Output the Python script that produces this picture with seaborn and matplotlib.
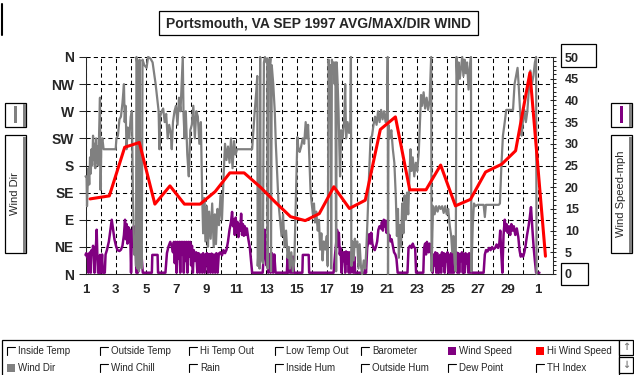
import matplotlib
matplotlib.use("Agg")
import matplotlib.pyplot as plt
from matplotlib.patches import Rectangle
import seaborn as sns

# ---------------- data ----------------
title_text = "Portsmouth, VA SEP 1997 AVG/MAX/DIR WIND"
dir_labels = ["N", "NE", "E", "SE", "S", "SW", "W", "NW", "N"]
day_ticks = list(range(1, 33))
day_labels = [str(d) if d % 2 == 1 else "" for d in range(1, 31)] + ["1", ""]
speed_ticks = list(range(0, 55, 5))

# wind direction in compass points (0 = N, 2 = E, 4 = S, 6 = W, 8 = N)
dir_day = [1.00, 1.07, 1.10, 1.14, 1.20, 1.25, 1.30, 1.35, 1.40, 1.45, 1.50, 1.55, 1.60, 1.65, 1.70, 1.75, 1.80, 1.85, 1.90, 1.96,
           2.00, 2.05, 2.12, 2.20, 3.00, 3.05, 3.15, 3.25, 3.35, 3.45, 3.55, 3.60, 3.66, 3.72, 3.80, 3.90, 4.00, 4.08, 4.14, 4.20,
           4.25, 4.30, 4.35, 4.38, 4.42, 4.45, 4.50, 4.55, 4.58, 4.63, 4.68, 4.73, 4.78, 4.90, 5.05, 5.15, 5.30, 5.45, 5.55, 5.65,
           5.75, 5.85, 5.90, 5.95, 6.05, 6.15, 6.25, 6.35, 6.45, 6.55, 6.65, 6.72, 6.80, 6.90, 7.00, 7.10, 7.20, 7.30, 7.45, 7.50,
           7.57, 7.65, 7.75, 7.85, 7.95, 8.05, 8.15, 8.25, 8.35, 8.45, 8.55, 8.65, 8.73, 8.80, 8.88, 8.95, 9.05, 9.12, 9.20, 9.30,
           9.40, 9.50, 9.58, 9.65, 9.75, 9.85, 9.95, 10.05, 10.15, 10.25, 10.35, 10.45, 10.55, 10.65, 10.75, 10.85, 10.95, 11.05, 12.05, 12.12,
           12.22, 12.32, 12.39, 12.42, 12.48, 12.54, 12.58, 12.63, 12.70, 12.76, 12.83, 12.90, 13.00, 13.05, 13.08, 13.12, 13.20, 13.26, 13.30, 13.35,
           13.45, 13.55, 13.62, 13.70, 13.80, 13.90, 14.00, 14.10, 14.20, 14.30, 14.40, 14.48, 14.55, 14.65, 14.75, 14.85, 15.05, 15.12, 15.20, 15.30,
           15.40, 15.50, 15.60, 15.68, 15.76, 15.84, 15.92, 16.00, 16.08, 16.15, 16.22, 16.30, 16.40, 16.48, 16.56, 16.64, 16.72, 16.80, 16.90, 17.00,
           17.06, 17.12, 17.18, 17.24, 17.29, 17.34, 17.40, 17.46, 17.52, 17.57, 17.62, 17.66, 17.72, 17.78, 17.83, 17.88, 17.95, 18.05, 18.15, 18.22,
           18.28, 18.38, 18.48, 18.56, 18.60, 18.63, 18.70, 18.78, 18.86, 18.94, 19.02, 19.10, 19.18, 19.26, 19.34, 19.45, 19.55, 19.62, 19.70, 19.80,
           19.90, 20.00, 20.10, 20.20, 20.30, 20.40, 20.50, 20.60, 20.70, 20.80, 20.90, 21.00, 21.04, 21.06, 21.09, 21.18, 21.28, 21.38, 21.48, 21.58,
           21.65, 21.72, 21.78, 21.85, 21.92, 22.00, 22.08, 22.16, 22.24, 22.32, 22.40, 22.48, 22.55, 22.62, 22.70, 22.80, 22.90, 23.00, 23.10, 23.25,
           23.32, 23.42, 23.52, 23.62, 23.72, 23.82, 23.88, 23.92, 23.95, 24.00, 24.05, 24.15, 24.25, 24.35, 24.45, 24.55, 24.65, 24.75, 24.85, 24.95,
           25.05, 25.15, 25.25, 25.32, 25.40, 25.48, 25.55, 25.60, 25.66, 25.74, 25.82, 25.90, 25.98, 26.06, 26.14, 26.22, 26.30, 26.40, 26.48, 26.56,
           26.59, 26.68, 26.76, 26.85, 27.00, 27.40, 27.48, 27.55, 28.40, 28.48, 28.58, 28.68, 28.80, 28.90, 29.00, 29.35, 29.45, 29.55, 29.65, 29.72,
           29.82, 29.92, 30.00, 30.10, 30.20, 30.30, 30.40, 30.50, 30.60, 30.70, 30.80, 30.88, 30.91]
dir_pts = [3.6, 3.6, 2.5, 3.2, 3.9, 3.3, 4.3, 3.7, 4.6, 4.0, 5.1, 4.2, 4.8, 3.9, 5.0, 4.1, 4.7, 4.0, 5.1, 6.5,
           3.1, 4.8, 5.0, 4.6, 4.6, 5.0, 5.1, 5.7, 5.8, 6.3, 7.0, 5.6, 6.2, 4.6, 5.4, 5.0, 5.8, 6.0, 3.0, 1.5,
           0.7, 1.2, 0.3, 8.0, 7.8, 0.2, 0.9, 0.1, 7.9, 0.4, 1.0, 0.2, 7.9, 7.7, 7.6, 8.0, 7.95, 7.8, 7.4, 7.0,
           6.5, 6.0, 4.6, 5.8, 6.0, 6.1, 5.6, 5.9, 5.0, 5.5, 5.2, 4.6, 5.6, 6.0, 6.2, 5.5, 6.5, 6.0, 8.0, 5.9,
           5.0, 6.0, 4.4, 3.6, 5.3, 5.5, 6.2, 5.0, 6.0, 5.8, 4.8, 5.6, 3.1, 1.5, 2.8, 1.2, 2.5, 1.0, 2.3, 1.3,
           2.6, 1.0, 2.2, 1.1, 2.4, 1.8, 2.9, 2.0, 3.5, 4.8, 4.2, 4.7, 4.1, 5.0, 3.9, 4.9, 4.4, 4.6, 4.6, 5.2,
           6.0, 6.7, 7.3, 0.3, 1.0, 0.2, 8.0, 0.5, 1.2, 0.4, 7.8, 8.0, 7.8, 7.95, 0.2, 7.9, 7.6, 7.95, 0.1, 7.7,
           7.0, 6.0, 4.8, 3.8, 2.6, 2.0, 1.4, 2.2, 1.0, 1.6, 0.6, 1.0, 0.2, 0.8, 0.1, 0.5, 5.05, 4.6, 4.5, 4.7,
           5.0, 4.8, 5.6, 5.0, 5.5, 4.3, 3.1, 2.6, 2.2, 2.6, 1.9, 2.3, 1.6, 2.0, 0.9, 1.5, 0.5, 1.2, 0.9, 1.4,
           0.3, 7.9, 7.3, 7.7, 0.2, 7.9, 7.4, 7.8, 7.0, 7.8, 0.1, 7.8, 7.0, 6.0, 4.7, 3.6, 5.3, 5.0, 5.6, 7.0,
           5.0, 5.6, 5.2, 5.6, 8.0, 0.3, 1.2, 0.5, 1.3, 1.0, 1.2, 0.2, 1.1, 0.3, 0.0, 0.5, 0.2, 0.9, 2.0, 3.6,
           5.0, 5.1, 5.5, 5.8, 5.5, 6.0, 5.6, 6.05, 5.7, 6.0, 5.6, 6.0, 8.0, 0.0, 5.5, 5.0, 5.3, 4.6, 4.1, 2.8,
           1.4, 2.4, 0.6, 1.8, 1.0, 2.6, 1.5, 2.9, 2.0, 3.0, 2.2, 3.6, 4.6, 3.8, 4.3, 3.6, 4.1, 3.8, 4.5, 6.6,
           6.2, 6.7, 6.1, 6.5, 6.05, 6.4, 7.3, 8.0, 0.1, 1.5, 2.5, 2.2, 2.5, 2.3, 2.5, 2.4, 2.5, 2.25, 2.5, 2.2,
           2.4, 1.8, 1.4, 0.8, 1.4, 0.4, 0.1, 8.0, 7.0, 7.8, 7.2, 7.6, 8.0, 7.3, 7.9, 7.4, 7.8, 6.8, 7.6, 8.0,
           0.1, 1.8, 2.6, 2.5, 2.55, 2.55, 2.1, 2.55, 2.55, 2.6, 4.0, 5.1, 5.6, 6.05, 6.05, 6.05, 7.0, 7.3, 7.6, 7.0,
           6.0, 5.1, 5.6, 6.05, 5.6, 6.0, 6.8, 7.5, 7.0, 7.3, 7.8, 8.0, 0.0]

# average wind speed, mph
spd_day = [1.00, 1.05, 1.10, 1.15, 1.20, 1.25, 1.30, 1.35, 1.40, 1.45, 1.50, 1.55, 1.60, 1.65, 1.70, 1.74, 1.78, 1.83, 1.92, 1.96,
           2.02, 2.10, 2.15, 2.28, 2.33, 2.42, 2.55, 2.65, 2.74, 2.82, 2.92, 3.02, 3.12, 3.25, 3.35, 3.45, 3.55, 3.62, 3.68, 3.73,
           3.78, 3.84, 3.90, 3.96, 4.02, 4.08, 4.14, 4.20, 4.26, 4.32, 4.37, 4.47, 4.52, 4.58, 4.64, 4.72, 4.80, 5.40, 5.43, 5.78,
           5.81, 6.30, 6.40, 6.50, 6.62, 6.72, 6.80, 6.86, 6.92, 6.98, 7.04, 7.10, 7.16, 7.22, 7.28, 7.34, 7.40, 7.46, 7.52, 7.58,
           7.64, 7.70, 7.76, 7.82, 7.88, 7.94, 8.00, 8.06, 8.12, 8.18, 8.26, 8.34, 8.42, 8.50, 8.58, 8.66, 8.74, 8.80, 8.90, 8.98,
           9.06, 9.12, 9.20, 9.28, 9.36, 9.44, 9.52, 9.60, 9.68, 9.76, 9.84, 9.95, 10.05, 10.15, 10.25, 10.35, 10.45, 10.55, 10.65, 10.72,
           10.78, 10.84, 10.90, 10.96, 11.02, 11.08, 11.14, 11.20, 11.26, 11.32, 11.38, 11.44, 11.50, 11.56, 11.62, 11.70, 11.80, 11.90, 11.98, 12.05,
           12.75, 12.82, 12.88, 12.94, 13.00, 13.06, 13.12, 13.20, 13.28, 13.36, 13.44, 13.52, 13.60, 14.35, 14.40, 14.45, 14.52, 14.58, 14.64, 14.70,
           14.76, 14.82, 15.38, 15.41, 15.80, 15.83, 17.45, 17.55, 17.62, 17.68, 17.74, 17.80, 17.86, 17.92, 17.98, 18.04, 18.10, 18.16, 18.22, 18.28,
           18.34, 18.40, 18.46, 18.52, 18.58, 18.64, 18.70, 18.76, 18.82, 18.88, 19.50, 19.55, 19.60, 19.68, 19.75, 19.82, 19.88, 19.95, 20.02, 20.10,
           20.18, 20.26, 20.34, 20.42, 20.50, 20.58, 20.66, 20.72, 20.78, 20.84, 20.90, 20.96, 21.02, 21.08, 21.15, 21.22, 21.30, 21.38, 21.46, 21.55,
           21.62, 21.70, 22.35, 22.42, 22.52, 22.62, 22.70, 22.78, 22.86, 22.92, 23.40, 23.45, 23.52, 23.58, 23.64, 23.70, 23.76, 23.82, 23.88, 23.95,
           24.02, 24.08, 24.14, 24.20, 24.26, 24.32, 24.38, 24.44, 24.52, 24.58, 24.64, 24.70, 24.76, 24.82, 24.88, 24.94, 25.00, 25.06, 25.12, 25.18,
           25.24, 25.30, 25.36, 25.42, 25.48, 25.54, 25.60, 25.66, 25.72, 25.78, 25.84, 25.90, 25.96, 26.02, 26.08, 26.14, 26.20, 26.26, 26.32, 26.38,
           26.44, 26.50, 26.56, 26.62, 27.40, 27.48, 27.56, 27.66, 27.76, 27.86, 27.96, 28.06, 28.16, 28.26, 28.36, 28.44, 28.50, 28.56, 28.64, 28.72,
           28.80, 28.86, 28.92, 29.00, 29.08, 29.16, 29.24, 29.32, 29.40, 29.50, 29.60, 29.70, 29.78, 29.86, 29.94, 30.02, 30.10, 30.18, 30.28, 30.38,
           30.46, 30.54, 30.60, 30.66, 30.72, 30.80, 30.88, 31.10]
spd_mph = [4.4, 4.8, 3.9, 4.6, 0.3, 4.7, 5.0, 0.3, 5.5, 4.5, 6.5, 4.8, 0.3, 5.2, 7.0, 10.2, 5.0, 0.3, 0.3, 4.4,
           0.3, 4.5, 0.3, 0.3, 4.5, 5.5, 7.5, 10.2, 12.5, 10.5, 8.0, 6.5, 5.5, 5.3, 5.6, 6.5, 9.0, 12.5, 8.0, 11.5,
           7.0, 10.8, 7.5, 10.2, 0.3, 9.8, 6.5, 11.0, 5.5, 9.6, 0.3, 0.3, 8.5, 11.0, 5.0, 4.0, 0.3, 0.3, 4.4, 4.4,
           0.3, 0.3, 4.8, 6.3, 7.4, 6.3, 5.0, 7.4, 2.5, 7.4, 0.3, 7.4, 3.5, 7.4, 0.3, 7.4, 4.5, 7.4, 0.3, 7.4,
           3.0, 7.4, 0.3, 7.4, 4.0, 7.4, 2.0, 6.5, 0.3, 5.5, 3.0, 5.0, 0.3, 4.8, 0.3, 4.5, 0.3, 4.8, 0.3, 4.5,
           4.8, 0.3, 4.6, 0.3, 4.7, 0.3, 4.5, 0.3, 4.8, 0.3, 4.7, 5.0, 4.3, 5.5, 4.8, 5.6, 7.5, 10.2, 12.0, 14.3,
           11.0, 12.5, 9.0, 13.0, 9.5, 12.0, 8.5, 11.5, 10.0, 13.9, 9.0, 11.5, 8.8, 11.0, 9.0, 10.5, 8.0, 6.0, 3.0, 0.3,
           0.3, 4.5, 10.2, 4.8, 2.0, 5.0, 0.3, 4.6, 0.3, 4.8, 0.3, 4.5, 0.3, 0.3, 4.0, 0.3, 4.2, 0.3, 3.5, 0.3,
           4.0, 0.3, 0.3, 4.4, 4.4, 0.3, 0.3, 4.5, 7.0, 10.2, 6.5, 9.5, 4.5, 6.0, 0.3, 5.0, 3.0, 5.0, 0.3, 5.2,
           2.5, 5.0, 0.3, 5.0, 0.3, 4.5, 5.0, 0.3, 4.0, 0.3, 0.3, 1.5, 0.3, 6.0, 7.5, 9.2, 7.0, 9.5, 7.0, 6.0,
           5.5, 6.3, 7.5, 10.2, 11.0, 10.5, 12.0, 10.0, 12.5, 11.0, 12.3, 9.5, 11.5, 8.5, 9.0, 7.5, 8.0, 6.5, 5.0, 4.5,
           3.5, 0.3, 0.3, 6.0, 6.5, 6.0, 7.0, 6.2, 6.0, 0.3, 0.3, 6.0, 7.0, 4.5, 7.4, 6.0, 5.0, 7.0, 6.5, 4.0,
           0.3, 4.5, 2.0, 5.0, 0.3, 4.8, 0.3, 0.3, 4.4, 0.3, 5.0, 2.0, 4.8, 0.3, 4.6, 3.0, 5.0, 0.3, 4.4, 0.3,
           4.8, 0.3, 5.0, 0.3, 4.5, 2.5, 5.0, 0.3, 4.8, 0.3, 4.5, 3.0, 5.0, 0.3, 4.6, 0.3, 4.8, 2.5, 4.5, 0.3,
           4.8, 0.3, 4.0, 0.3, 0.3, 4.5, 5.5, 5.2, 6.0, 5.5, 6.2, 5.7, 6.0, 6.8, 6.0, 7.0, 10.0, 5.5, 0.3, 9.0,
           12.5, 10.0, 11.5, 9.5, 11.0, 9.0, 11.5, 10.0, 11.0, 9.0, 10.5, 8.5, 5.5, 4.0, 4.5, 4.0, 5.0, 6.5, 9.0, 11.0,
           13.0, 15.4, 12.0, 9.0, 6.0, 3.0, 0.3, 0.3]

# daily high wind speed, mph
hi_day = [1.30, 2.58, 3.60, 4.57, 5.60, 6.60, 7.56, 8.60, 9.60, 10.57, 11.52, 12.60, 13.60, 14.60, 15.57, 16.50,
          17.47, 18.50, 19.55, 20.55, 21.55, 22.50, 23.58, 24.55, 25.53, 26.53, 27.53, 28.60, 29.52, 30.47, 31.50]
hi_mph = [17.3, 18.0, 29.2, 30.3, 16.1, 20.3, 16.1, 16.1, 19.0, 23.3, 23.3, 20.0, 16.5, 13.2, 12.3, 13.9,
          20.1, 15.1, 17.0, 33.3, 36.2, 19.4, 19.4, 25.1, 15.7, 17.2, 23.5, 25.3, 28.4, 46.4, 4.1]

legend_row1 = ["Inside Temp", "Outside Temp", "Hi Temp Out", "Low Temp Out", "Barometer", "Wind Speed", "Hi Wind Speed"]
legend_row2 = ["Wind Dir", "Wind Chill", "Rain", "Inside Hum", "Outside Hum", "Dew Point", "TH Index"]
legend_fill1 = [None, None, None, None, None, "#800080", "#FF0000"]
legend_fill2 = ["#808080", None, None, None, None, None, None]

# ---------------- styling ----------------
sns.set_style("white")
plt.rcParams["font.family"] = ["Liberation Sans", "DejaVu Sans"]

GRAY, PURPLE, RED = "#808080", "#800080", "#FF0000"
W, H = 634, 375
fig = plt.figure(figsize=(W / 100, H / 100), dpi=100)
fig.patch.set_facecolor("white")


def fx(x):
    return x / W


def fy(y):
    return 1 - y / H


def box(x0, y0, x1, y1, fc="white", ec="black", lw=0.75, z=5):
    fig.add_artist(Rectangle((fx(x0), fy(y1)), fx(x1) - fx(x0), fy(y0) - fy(y1),
                             transform=fig.transFigure, facecolor=fc, edgecolor=ec,
                             linewidth=lw, zorder=z))


L, R, T, B = 85.5, 553, 57, 274
ax = fig.add_axes([fx(L), fy(B), fx(R) - fx(L), (B - T) / H])
ax_p = ax.twinx()
ax_g = ax.twinx()
ax_r = ax.twinx()
for z, a in enumerate([ax, ax_p, ax_g, ax_r]):
    a.set_zorder(z + 1)
    a.patch.set_visible(False)
ax.patch.set_visible(True)
ax.patch.set_facecolor("white")

sns.lineplot(x=spd_day, y=spd_mph, ax=ax_p, color=PURPLE, linewidth=1.8,
             estimator=None, sort=False, legend=False)
sns.lineplot(x=dir_day, y=dir_pts, ax=ax_g, color=GRAY, linewidth=1.6,
             estimator=None, sort=False, legend=False)
sns.lineplot(x=hi_day, y=hi_mph, ax=ax_r, color=RED, linewidth=2.2,
             estimator=None, sort=False, legend=False)
for line in ax_g.lines + ax_p.lines:
    line.set_clip_on(False)

for a in [ax, ax_p, ax_g, ax_r]:
    a.set_xlim(1, 32)
    a.set_xlabel("")
    a.set_ylabel("")
ax.set_ylim(0, 8)
ax_g.set_ylim(0, 8)
ax_p.set_ylim(0, 50)
ax_r.set_ylim(0, 50)

# base axes: grid, left direction axis, day axis
ax.set_yticks(range(9))
ax.set_yticklabels(dir_labels)
ax.set_xticks(day_ticks)
ax.set_xticklabels(day_labels)
ax.grid(True, color="black", linestyle=(0, (4, 3)), linewidth=0.75)
ax.tick_params(axis="y", direction="out", length=5, width=0.75, pad=3.5, labelsize=10)
ax.tick_params(axis="x", direction="out", length=4.3, width=0.75, pad=3, labelsize=9.5)
for lab in ax.get_xticklabels() + ax.get_yticklabels():
    lab.set_fontweight("bold")
for s in ["top", "right"]:
    ax.spines[s].set_visible(False)
for s in ["left", "bottom"]:
    ax.spines[s].set_linewidth(0.75)

for a in [ax_p, ax_g]:
    a.yaxis.set_visible(False)
    for s in a.spines.values():
        s.set_visible(False)

for s in ["top", "left", "bottom"]:
    ax_r.spines[s].set_visible(False)
ax_r.spines["right"].set_linewidth(0.75)
ax_r.set_yticks(speed_ticks)
ax_r.set_yticks(range(0, 51), minor=True)
ax_r.tick_params(axis="y", which="major", direction="inout", length=5, width=0.75, pad=6, labelsize=9)
ax_r.tick_params(axis="y", which="minor", direction="out", length=2.5, width=0.75)
for lab in ax_r.get_yticklabels():
    lab.set_fontweight("bold")

# boxes around the 50 and 0 labels on the speed axis
box(561, 44, 596, 67, fc="none", lw=0.9)
box(561, 263, 588, 285, fc="none", lw=0.9)

# title box
box(159, 11, 478, 35, lw=0.9)
fig.text(fx(318.5), fy(23.5), title_text, ha="center", va="center",
         fontsize=10, fontweight="bold", zorder=6)

# stray mark at top-left
fig.add_artist(plt.Line2D([fx(1.5), fx(1.5)], [fy(4), fy(35)], transform=fig.transFigure,
                          color="black", linewidth=1.5))

# side legends
for x0, col, label in [(5, GRAY, "Wind Dir"), (611, PURPLE, "Wind Speed-mph")]:
    box(x0, 103, x0 + 21, 127, lw=0.9)
    box(x0 + 18, 104, x0 + 21, 127, fc=GRAY, ec="none", lw=0, z=6)
    box(x0 + 9, 106, x0 + 12, 123, fc=col, ec="none", lw=0, z=6)
    box(x0, 135, x0 + 21, 253, lw=0.9)
    box(x0 + 18, 137, x0 + 21, 253, fc=GRAY, ec="none", lw=0, z=6)
    fig.text(fx(x0 + 9.5), fy(194), label, rotation=90, ha="center", va="center",
             fontsize=8, zorder=7)

# bottom legend
box(2, 340, 619, 380, lw=0.9)
col_x = [3, 96, 185, 271, 357, 444, 532]
for row_y, names, fills in [(351, legend_row1, legend_fill1), (368, legend_row2, legend_fill2)]:
    for cx, name, fc in zip(col_x, names, fills):
        if fc is None:
            fig.add_artist(plt.Line2D([fx(cx + 4), fx(cx + 4), fx(cx + 12)],
                                      [fy(row_y + 4), fy(row_y - 4), fy(row_y - 4)],
                                      transform=fig.transFigure, color="black",
                                      linewidth=0.8, zorder=8))
        else:
            box(cx + 4, row_y - 4, cx + 12, row_y + 4, fc=fc, ec="none", lw=0, z=6)
        fig.text(fx(cx + 15), fy(row_y), name, ha="left", va="center", fontsize=7, zorder=7)

# scroll buttons
for y0, y1, arrow in [(340, 355, "\u2191"), (357, 373, "\u2193")]:
    box(619, y0, 633, y1, lw=0.9)
    fig.text(fx(626), fy((y0 + y1) / 2), arrow, ha="center", va="center", fontsize=7,
             color=GRAY, family="DejaVu Sans", fontweight="bold", zorder=7)

fig.savefig("out.png", dpi=100, facecolor="white")
